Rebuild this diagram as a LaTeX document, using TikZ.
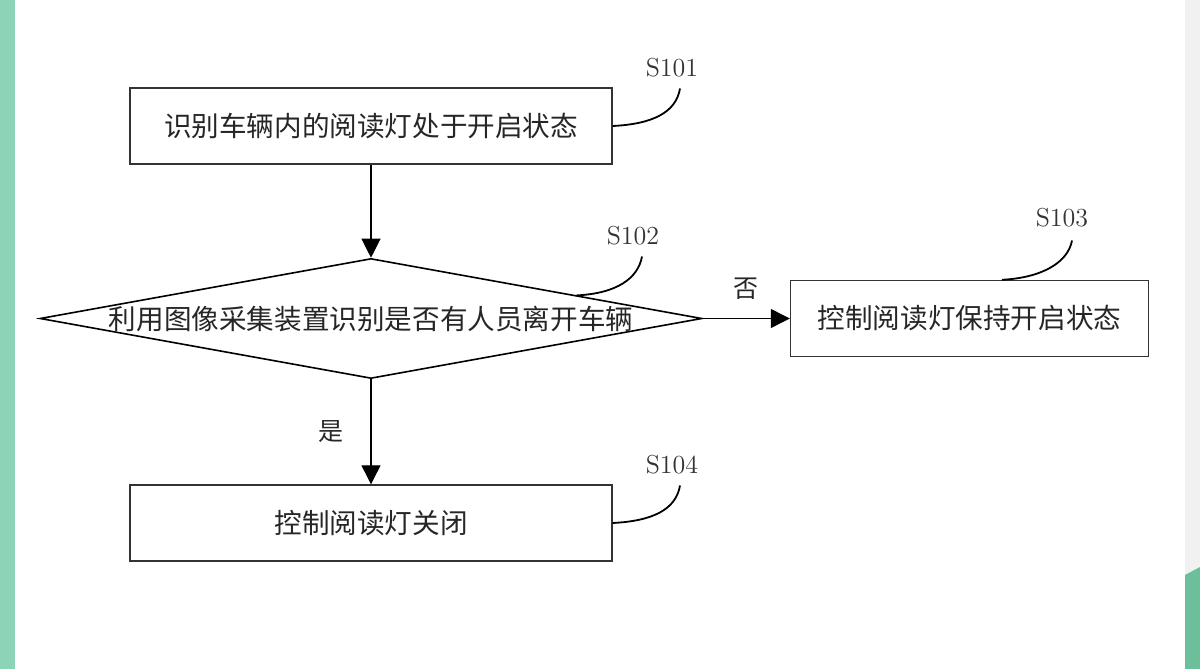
\documentclass[tikz,border=0pt]{standalone}
\usepackage{fontspec}
\newfontfamily\cjk{Noto Sans CJK SC}
\usetikzlibrary{shapes.geometric, arrows.meta, positioning, calc}
\definecolor{sidegreen}{HTML}{8DD3B7}
\definecolor{cornergreen}{HTML}{6DBF9C}
\definecolor{sidegrey}{HTML}{F1F1F1}
\tikzset{
  stepbox/.style = {rectangle, draw=black!80, line width=0.7pt, minimum height=38pt, inner sep=0pt, text=black!85, font=\cjk\fontsize{13.8}{16}\selectfont},
  decision/.style = {diamond, draw=black, line width=0.8pt, minimum width=331pt, minimum height=60pt, inner sep=0pt, text=black!85, font=\cjk\fontsize{13.8}{16}\selectfont},
  steplabel/.style = {text=black!80, font=\fontsize{13}{15}\selectfont},
  branch/.style = {text=black!85, font=\cjk\fontsize{12.5}{15}\selectfont},
  arrow/.style = {line width=0.6pt, -{Triangle[length=9.5pt,width=9.5pt]}},
  leader/.style = {line width=0.9pt}
}
\begin{document}
\begin{tikzpicture}[x=0.5pt, y=-0.5pt]
% page and side strips
\fill[white] (0,0) rectangle (1200,669);
\useasboundingbox (0,0) rectangle (1200,669);
\fill[sidegreen] (0,0) rectangle (15,669);
\fill[sidegrey] (1185,0) rectangle (1200,669);
\fill[cornergreen] (1185,575) -- (1200,567) -- (1200,669) -- (1185,669) -- cycle;

% steps
\node (recog) [stepbox, minimum width=241pt] at (371,126) {识别车辆内的阅读灯处于开启状态};
\node (check) [decision, below=46.5pt of recog] {\makebox[0pt]{利用图像采集装置识别是否有人员离开车辆}};
\node (keep) [stepbox, minimum width=179pt, right=43.5pt of check] {控制阅读灯保持开启状态};
\node (off) [stepbox, minimum width=241pt, below=52.5pt of check] {控制阅读灯关闭};

% step numbers
\node (s101) [steplabel] at (672,68) {S101};
\node (s102) [steplabel] at (633,236) {S102};
\node (s103) [steplabel] at (1062,218) {S103};
\node (s104) [steplabel] at (672,465) {S104};

% flow
\draw [arrow] (recog) -- (check);
\draw [arrow] (check) -- node[branch, above=6pt] {否} (keep);
\draw [arrow] (check) -- node[branch, left=10pt] {是} (off);

% leaders to step numbers
\coordinate (c102) at ($(check.north)!0.62!(check.east)$);
\coordinate (c103) at ($(keep.north west)!0.59!(keep.north east)$);
\draw [leader] (recog.east) .. controls +(40,-2) and +(-4,24) .. ($(s101.south)+(8,4)$);
\draw [leader] (c102) .. controls +(40,-2) and +(-4,22) .. ($(s102.south)+(9,4)$);
\draw [leader] (c103) .. controls +(40,-2) and +(-4,22) .. ($(s103.south)+(10,6)$);
\draw [leader] (off.east) .. controls +(40,-2) and +(-4,24) .. ($(s104.south)+(8,4)$);
\end{tikzpicture}
\end{document}
